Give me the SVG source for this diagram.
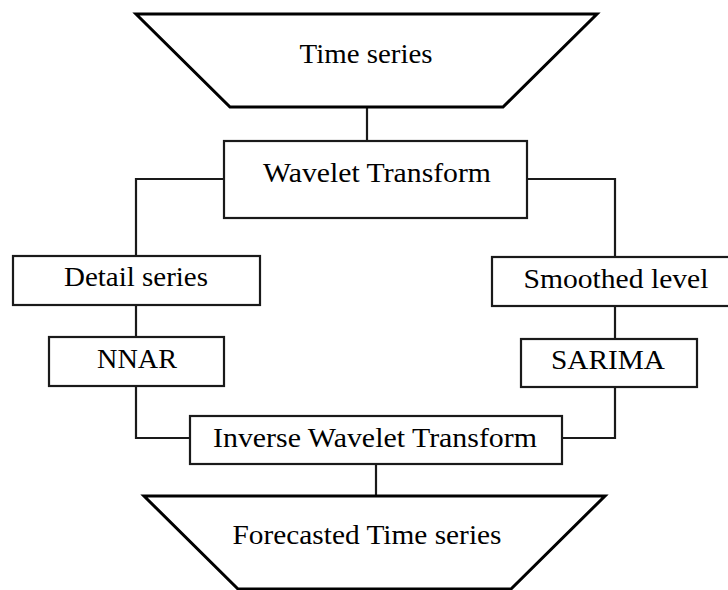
<svg xmlns="http://www.w3.org/2000/svg" width="728" height="590" viewBox="0 0 728 590">
  <style>
    .box { fill: #ffffff; stroke: #1a1a1a; stroke-width: 2.2; }
    .trap { fill: #ffffff; stroke: #000000; stroke-width: 3; stroke-linejoin: miter; }
    .link { fill: none; stroke: #1a1a1a; stroke-width: 2.2; }
    .label { font-family: "Liberation Serif", "Times New Roman", serif; font-size: 28px; fill: #000000; text-anchor: middle; }
  </style>
  <rect width="728" height="590" fill="#ffffff"/>

  <!-- connectors -->
  <g id="connectors">
    <path class="link" d="M367,107 V141"/>
    <path class="link" d="M224,179 H136 V256"/>
    <path class="link" d="M527,179 H615 V257"/>
    <path class="link" d="M136,305 V337"/>
    <path class="link" d="M615,306 V339"/>
    <path class="link" d="M136,386 V438 H190"/>
    <path class="link" d="M615,387 V438 H562"/>
    <path class="link" d="M376,464 V496"/>
  </g>

  <g id="time-series">
    <polygon class="trap" points="136,14 597,14 503,107 230,107"/>
    <text class="label" x="366" y="63" textLength="133" lengthAdjust="spacingAndGlyphs">Time series</text>
  </g>

  <g id="wavelet-transform">
    <rect class="box" x="224" y="141" width="303" height="77"/>
    <text class="label" x="377" y="182" textLength="228" lengthAdjust="spacingAndGlyphs">Wavelet Transform</text>
  </g>

  <g id="detail-series">
    <rect class="box" x="13" y="256" width="247" height="49"/>
    <text class="label" x="136" y="286" textLength="144" lengthAdjust="spacingAndGlyphs">Detail series</text>
  </g>

  <g id="smoothed-level">
    <rect class="box" x="492" y="257" width="240" height="49"/>
    <text class="label" x="616" y="288" textLength="185" lengthAdjust="spacingAndGlyphs">Smoothed level</text>
  </g>

  <g id="nnar">
    <rect class="box" x="49" y="337" width="175" height="49"/>
    <text class="label" x="137" y="368" textLength="80" lengthAdjust="spacingAndGlyphs">NNAR</text>
  </g>

  <g id="sarima">
    <rect class="box" x="521" y="339" width="176" height="48"/>
    <text class="label" x="608" y="369" textLength="114" lengthAdjust="spacingAndGlyphs">SARIMA</text>
  </g>

  <g id="inverse-wavelet-transform">
    <rect class="box" x="190" y="416" width="372" height="48"/>
    <text class="label" x="375" y="447" textLength="324" lengthAdjust="spacingAndGlyphs">Inverse Wavelet Transform</text>
  </g>

  <g id="forecasted-time-series">
    <polygon class="trap" points="144,496 605,496 511,589 238,589"/>
    <text class="label" x="367" y="544" textLength="269" lengthAdjust="spacingAndGlyphs">Forecasted Time series</text>
  </g>
</svg>
